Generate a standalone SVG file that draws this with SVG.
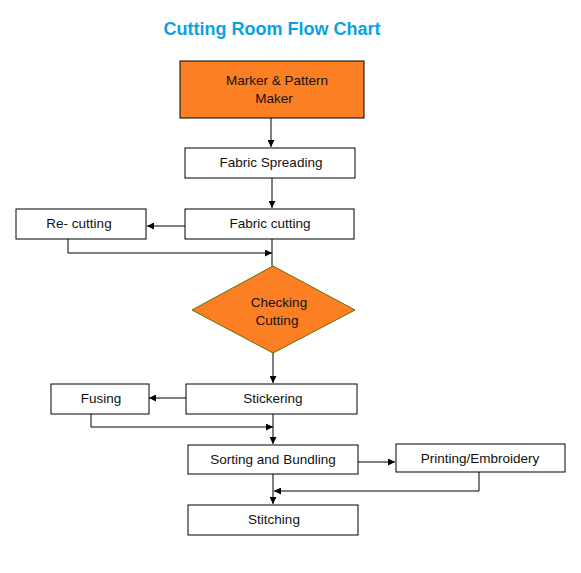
<svg xmlns="http://www.w3.org/2000/svg" width="581" height="573" viewBox="0 0 581 573">
<style>
.box{fill:#fff;stroke:#000;stroke-width:1}
.orange{fill:#fd7f24;stroke:#000;stroke-width:1}
.dia{fill:#fd7f24;stroke:#6b6b00;stroke-width:1}
.t{font-family:"Liberation Sans",Arial,sans-serif;font-size:13.5px;fill:#111;text-anchor:middle}
.title{font-family:"Liberation Sans",Arial,sans-serif;font-size:18px;font-weight:bold;fill:#0aa1e2;text-anchor:middle}
.c{fill:none;stroke:#000;stroke-width:1}
</style>
<defs>
<marker id="ah" viewBox="0 0 10 10" refX="10" refY="5" markerWidth="7" markerHeight="7" markerUnits="userSpaceOnUse" orient="auto">
<path d="M0,0 L10,5 L0,10 z" fill="#000"/>
</marker>
</defs>
<rect width="581" height="573" fill="#fff"/>
<text class="title" x="272" y="35">Cutting Room Flow Chart</text>

<g id="connectors">
<path class="c" d="M271,118 V147" marker-end="url(#ah)"/>
<path class="c" d="M272,178 V208" marker-end="url(#ah)"/>
<path class="c" d="M185,226 H147" marker-end="url(#ah)"/>
<path class="c" d="M272,239 V266"/>
<path class="c" d="M68,239 V253 H272" marker-end="url(#ah)"/>
<path class="c" d="M273,353 V383" marker-end="url(#ah)"/>
<path class="c" d="M186,398 H149" marker-end="url(#ah)"/>
<path class="c" d="M91,414 V427 H273" marker-end="url(#ah)"/>
<path class="c" d="M273,414 V444" marker-end="url(#ah)"/>
<path class="c" d="M358,462 H395" marker-end="url(#ah)"/>
<path class="c" d="M479,472 V491 H274" marker-end="url(#ah)"/>
<path class="c" d="M273,474 V504" marker-end="url(#ah)"/>
</g>

<g id="marker">
<rect class="orange" x="180" y="61" width="184" height="57"/>
<text class="t" x="277" y="85">Marker &amp; Pattern</text>
<text class="t" x="274" y="103">Maker</text>
</g>
<g id="spreading">
<rect class="box" x="185" y="148" width="170" height="30"/>
<text class="t" x="271" y="167">Fabric Spreading</text>
</g>
<g id="cutting">
<rect class="box" x="185" y="209" width="169" height="30"/>
<text class="t" x="270" y="228">Fabric cutting</text>
</g>
<g id="recutting">
<rect class="box" x="16" y="209" width="130" height="30"/>
<text class="t" x="79" y="228">Re- cutting</text>
</g>
<g id="checking">
<polygon class="dia" points="273,266 355,310 273,353 192,310"/>
<text class="t" x="279" y="307">Checking</text>
<text class="t" x="277" y="325">Cutting</text>
</g>
<g id="stickering">
<rect class="box" x="186" y="384" width="171" height="30"/>
<text class="t" x="273" y="403">Stickering</text>
</g>
<g id="fusing">
<rect class="box" x="51" y="384" width="98" height="30"/>
<text class="t" x="101" y="403">Fusing</text>
</g>
<g id="sorting">
<rect class="box" x="188" y="445" width="170" height="29"/>
<text class="t" x="273" y="464">Sorting and Bundling</text>
</g>
<g id="printing">
<rect class="box" x="396" y="444" width="169" height="28"/>
<text class="t" x="480" y="463">Printing/Embroidery</text>
</g>
<g id="stitching">
<rect class="box" x="188" y="505" width="170" height="30"/>
<text class="t" x="274" y="524">Stitching</text>
</g>
</svg>
